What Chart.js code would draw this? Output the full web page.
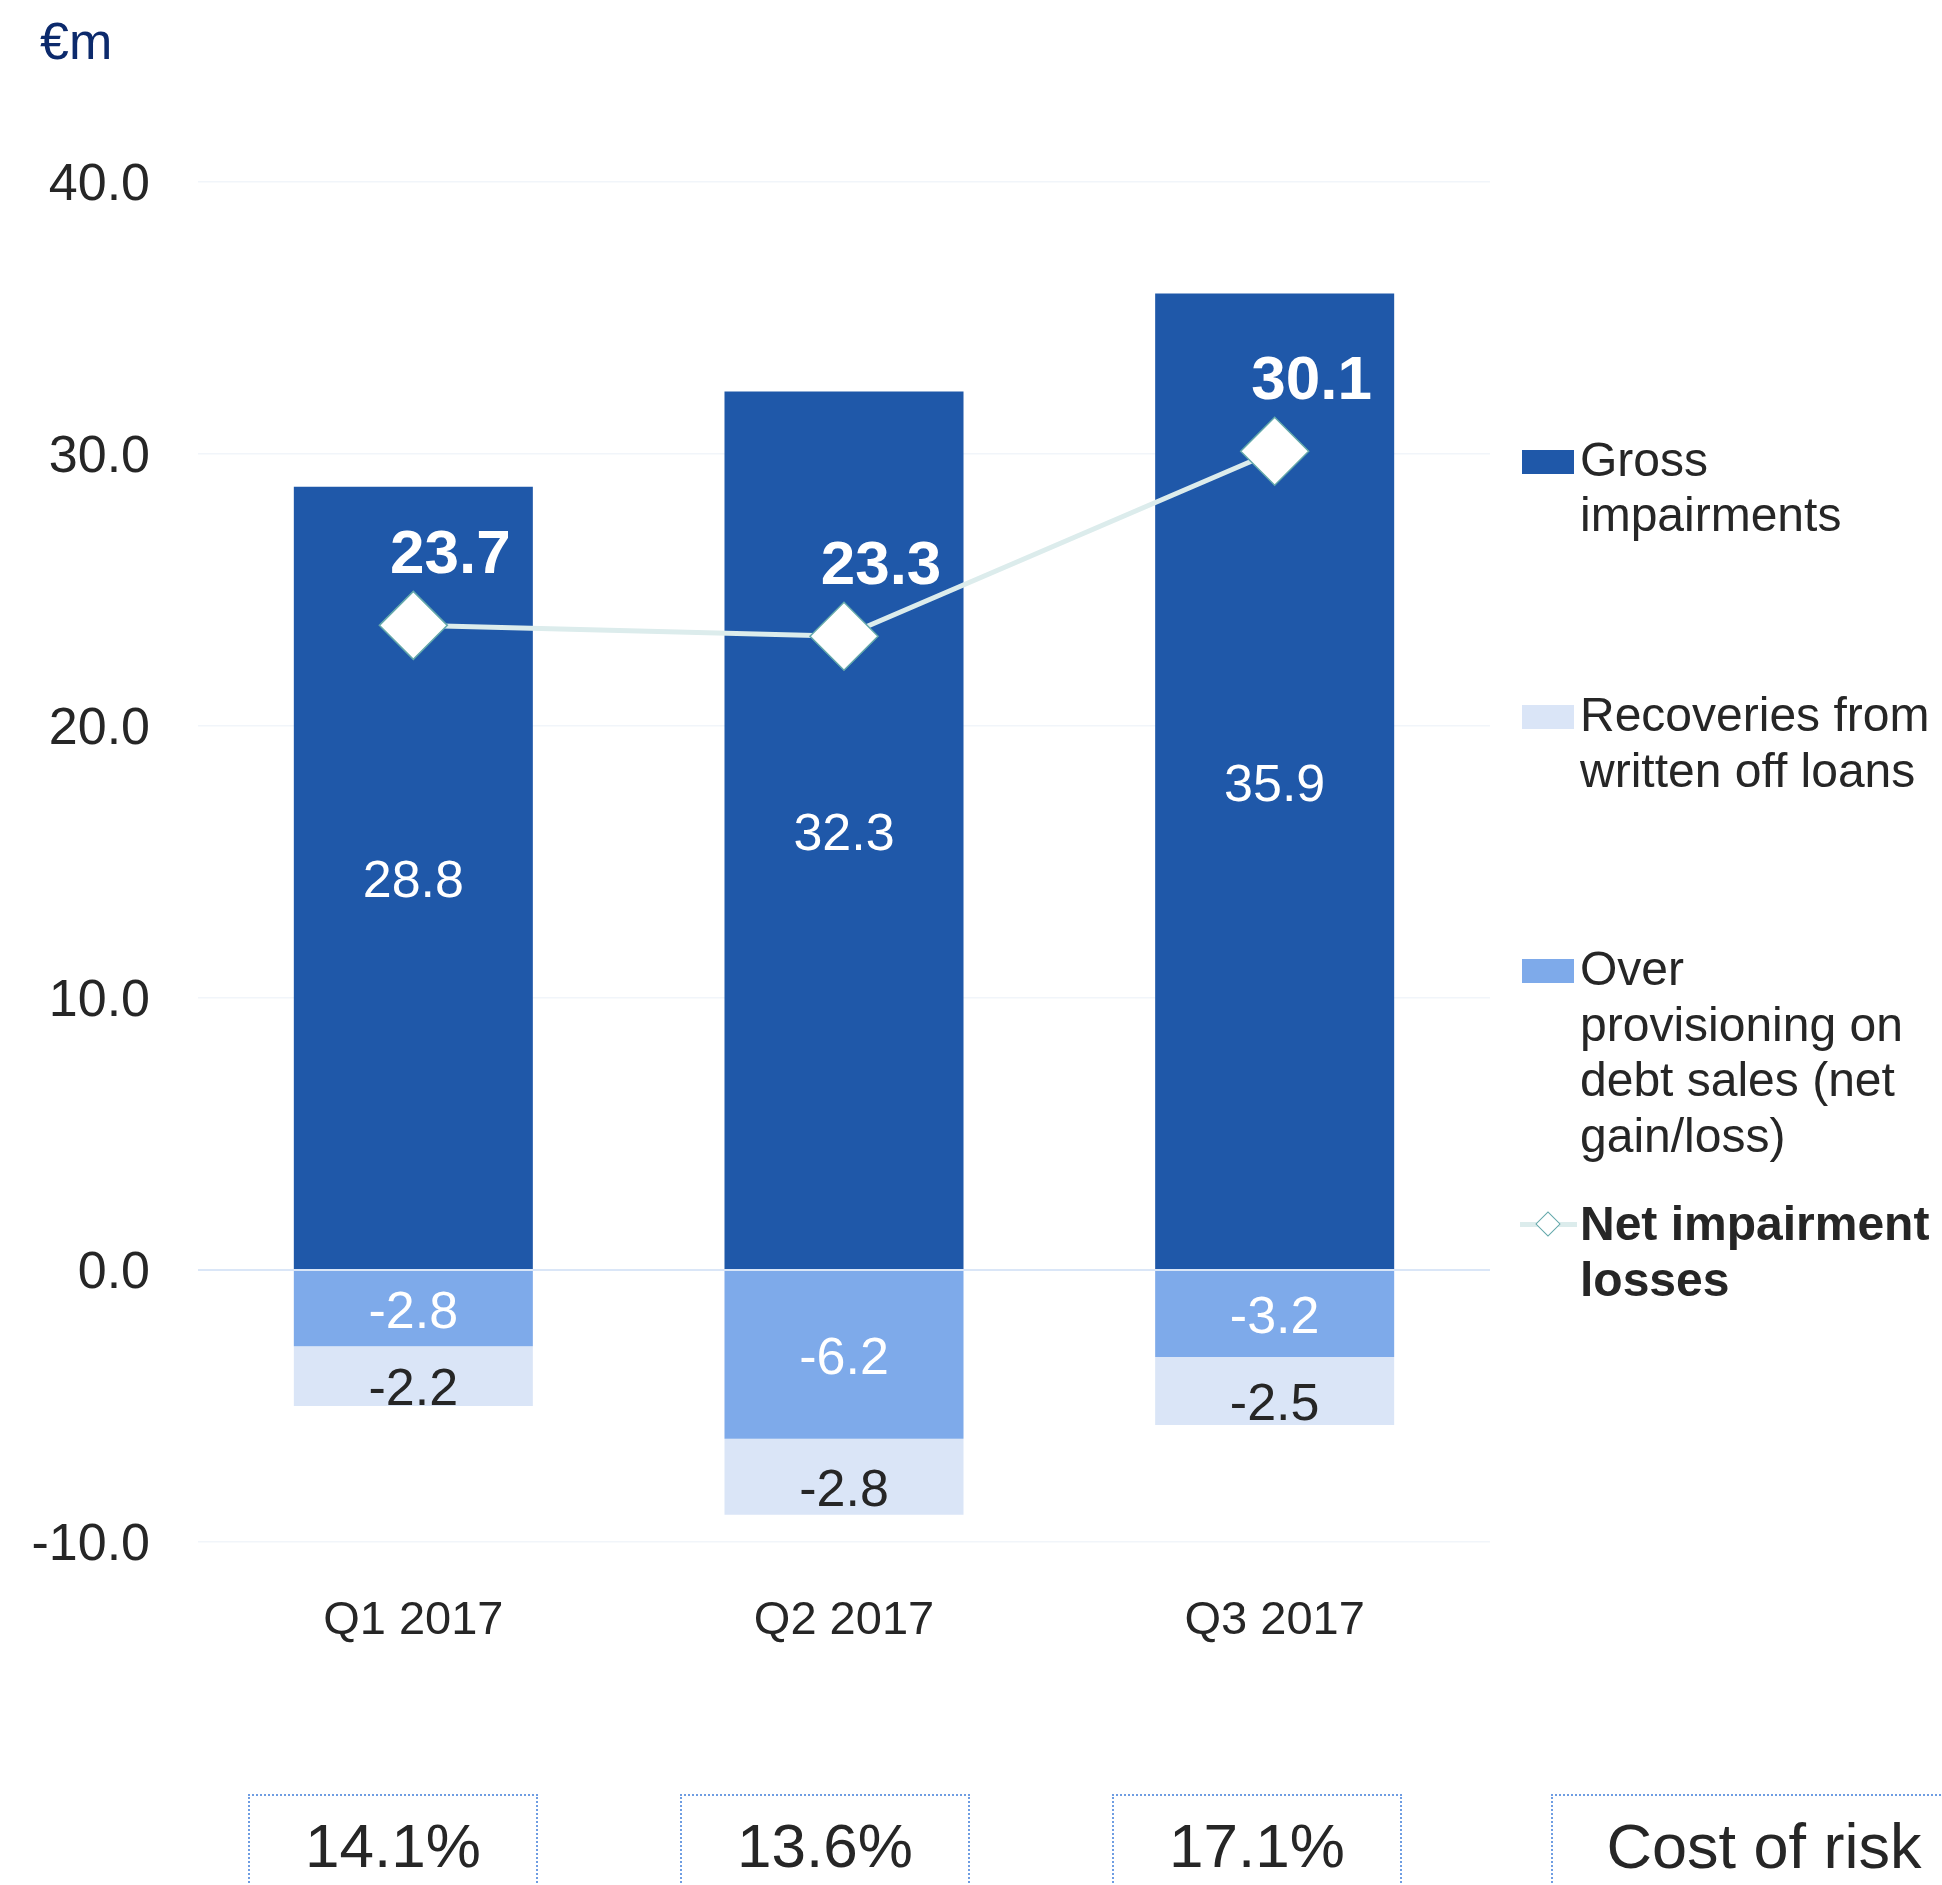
<!DOCTYPE html>
<html>
<head>
<meta charset="utf-8">
<title>Net impairment losses</title>
<script src="https://cdn.jsdelivr.net/npm/chart.js@4.4.1/dist/chart.umd.min.js"></script>
<style>
  html, body { margin: 0; padding: 0; background: #fff; }
  body {
    width: 1942px; height: 1885px; position: relative; overflow: hidden;
    font-family: "Liberation Sans", Arial, sans-serif;
  }
  #chart { position: absolute; left: 0; top: 0; }
  .unit {
    position: absolute; left: 40px; top: 15px;
    font-size: 52px; line-height: 52px; color: #0c2a6c;
  }
  .leg-text {
    position: absolute; left: 1580px;
    font-size: 48px; line-height: 55.5px; color: #262626; white-space: nowrap;
  }
  .leg-text.bold { font-weight: bold; }
  .leg-swatch { position: absolute; left: 1522px; width: 52px; height: 24px; }
  .leg-line { position: absolute; left: 1520px; width: 57px; height: 5px; background: #dcecec; }
  .leg-diamond {
    position: absolute; width: 18px; height: 18px; background: #fff;
    border: 1.5px solid #63a8aa; box-sizing: border-box; transform: rotate(45deg);
  }
  .box {
    position: absolute; top: 1794px; height: 200px; box-sizing: border-box;
    border: 2px dotted #6f9de2; text-align: center;
    font-size: 62px; line-height: 62px; color: #262626; padding-top: 19px;
  }
</style>
</head>
<body>
<canvas id="chart" width="1942" height="1885"></canvas>
<div id="overlay"></div>
<script>
// ---- data ----
const quarters = ['Q1 2017', 'Q2 2017', 'Q3 2017'];
const grossImpairments = [28.8, 32.3, 35.9];
const overProvisioning = [-2.8, -6.2, -3.2];
const recoveries = [-2.2, -2.8, -2.5];
const netImpairmentLosses = [23.7, 23.3, 30.1];
const costOfRisk = ['14.1%', '13.6%', '17.1%'];
const costOfRiskTitle = 'Cost of risk';
const unitLabel = '€m';
const yRange = [-10, 40];
const yStep = 10;

const grossName = ['Gross', 'impairments'];
const recoveriesName = ['Recoveries from', 'written off loans'];
const overName = ['Over', 'provisioning on', 'debt sales (net', 'gain/loss)'];
const netName = ['Net impairment', 'losses'];

// ---- colours ----
const GROSS = '#1f58a9';
const OVER = '#7eaaea';
const RECOV = '#dae5f7';
const NET_LINE = '#dcecec';
const NET_EDGE = '#63a8aa';
const TEXT = '#262626';
const FONT = '"Liberation Sans", Arial, sans-serif';

Chart.defaults.font.family = FONT;

// Value labels inside the bars and above the net line markers
const valueLabels = {
  id: 'valueLabels',
  afterDatasetsDraw(chart) {
    const ctx = chart.ctx;
    const area = chart.chartArea;
    const y0 = chart.scales.y.getPixelForValue(0);
    ctx.save();
    // zero baseline drawn over the bars
    ctx.strokeStyle = '#dae6f7';
    ctx.lineWidth = 2;
    ctx.beginPath();
    ctx.moveTo(area.left, y0);
    ctx.lineTo(area.right, y0);
    ctx.stroke();

    ctx.textAlign = 'center';
    ctx.textBaseline = 'middle';
    chart.data.datasets.forEach((ds, i) => {
      const meta = chart.getDatasetMeta(i);
      meta.data.forEach((el, j) => {
        const txt = ds.data[j].toFixed(1);
        if (meta.type === 'bar') {
          ctx.font = '52px ' + FONT;
          ctx.fillStyle = ds.labelColor;
          ctx.fillText(txt, el.x, (el.y + el.base) / 2 + 5 + (ds.labelShift || 0));
        } else {
          ctx.font = 'bold 62px ' + FONT;
          ctx.fillStyle = '#ffffff';
          ctx.fillText(txt, el.x + 37, el.y - 69);
        }
      });
    });
    ctx.restore();
  }
};

new Chart(document.getElementById('chart'), {
  type: 'bar',
  data: {
    labels: quarters,
    datasets: [
      { label: grossName.join(' '), data: grossImpairments, backgroundColor: GROSS,
        stack: 'impairments', order: 1, labelColor: '#ffffff' },
      { label: overName.join(' '), data: overProvisioning, backgroundColor: OVER,
        stack: 'impairments', order: 1, labelColor: '#ffffff' },
      { label: recoveriesName.join(' '), data: recoveries, backgroundColor: RECOV,
        stack: 'impairments', order: 1, labelColor: TEXT, labelShift: 10 },
      { type: 'line', label: netName.join(' '), data: netImpairmentLosses, stack: 'net', order: 0,
        borderColor: NET_LINE, borderWidth: 5, tension: 0, fill: false,
        pointStyle: 'rectRot', pointRadius: 34, pointHoverRadius: 34,
        pointBackgroundColor: '#ffffff', pointBorderColor: NET_EDGE, pointBorderWidth: 1.5 }
    ]
  },
  options: {
    responsive: false,
    animation: false,
    devicePixelRatio: 1,
    layout: { padding: { top: 182, right: 452, bottom: 0, left: 0 } },
    datasets: { bar: { categoryPercentage: 1, barPercentage: 0.555 } },
    plugins: { legend: { display: false }, tooltip: { enabled: false } },
    scales: {
      x: {
        stacked: true,
        grid: { display: false, drawTicks: false },
        border: { display: false },
        ticks: { font: { size: 47 }, color: TEXT, padding: 51 },
        afterFit(s) { s.height = 343; }
      },
      y: {
        stacked: true,
        min: yRange[0], max: yRange[1],
        ticks: { stepSize: yStep, font: { size: 52 }, color: TEXT, padding: 48, labelOffset: 4,
                 callback: v => Number(v).toFixed(1) },
        grid: {
          drawTicks: false,
          color: c => (c.tick && c.tick.value === 0 ? '#dae6f7' : '#f1f5fa'),
          lineWidth: c => (c.tick && c.tick.value === 0 ? 2 : 1.5)
        },
        border: { display: false },
        afterFit(s) { s.width = 198; }
      }
    }
  },
  plugins: [valueLabels]
});

// ---- unit, legend and cost-of-risk boxes ----
const overlay = document.getElementById('overlay');
function add(cls, style, html) {
  const d = document.createElement('div');
  d.className = cls;
  Object.assign(d.style, style);
  if (html !== undefined) d.innerHTML = html;
  overlay.appendChild(d);
  return d;
}

add('unit', {}, unitLabel);

const legendRows = [
  { name: grossName, color: GROSS, centre: 459.5 },
  { name: recoveriesName, color: RECOV, centre: 715 },
  { name: overName, color: OVER, centre: 969 },
  { name: netName, line: true, centre: 1224 }
];
legendRows.forEach(r => {
  add('leg-text' + (r.line ? ' bold' : ''), { top: (r.centre - 28) + 'px' }, r.name.join('<br>'));
  if (r.line) {
    add('leg-line', { top: (r.centre - 2.5) + 'px' });
    add('leg-diamond', { left: (1548 - 9) + 'px', top: (r.centre - 9) + 'px' });
  } else {
    add('leg-swatch', { top: (r.centre + 2 - 12) + 'px', background: r.color });
  }
});

const boxLefts = [248, 680, 1112];
costOfRisk.forEach((t, i) => add('box', { left: boxLefts[i] + 'px', width: '290px' }, t));
add('box', { left: '1551px', width: '426px', fontSize: '63px' }, costOfRiskTitle);
</script>
</body>
</html>
